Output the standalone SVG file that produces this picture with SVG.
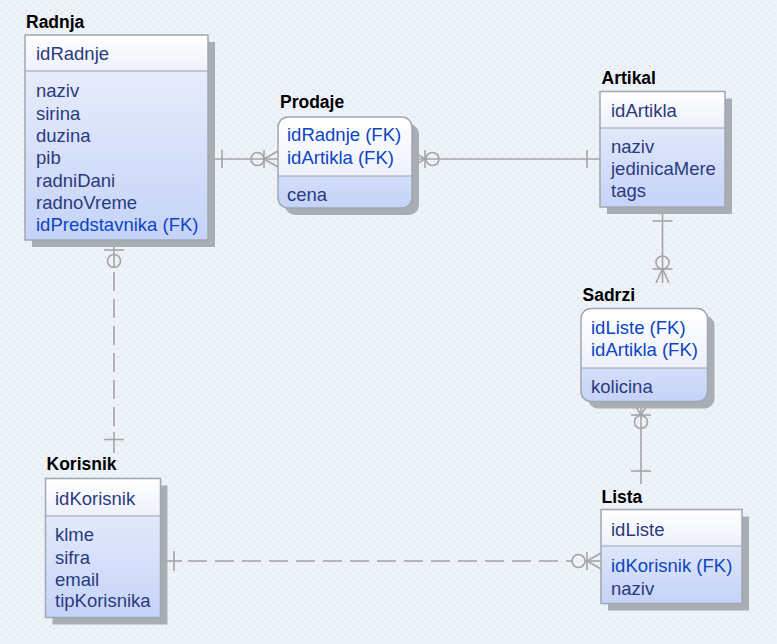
<svg xmlns="http://www.w3.org/2000/svg" width="777" height="644" viewBox="0 0 777 644">
<defs>
  <pattern id="bgp" width="8" height="8" patternUnits="userSpaceOnUse">
    <rect width="8" height="8" fill="#eef3f9"/>
    <rect x="1" y="1" width="1" height="1" fill="#d6dee9"/>
    <rect x="2" y="2" width="1" height="1" fill="#d6dee9"/>
    <rect x="5" y="5" width="1" height="1" fill="#d6dee9"/>
    <rect x="6" y="4" width="1" height="1" fill="#d6dee9"/>
  </pattern>
  <linearGradient id="hdr" x1="0" y1="0" x2="0" y2="1">
    <stop offset="0" stop-color="#ffffff"/>
    <stop offset="1" stop-color="#edf1fb"/>
  </linearGradient>
  <linearGradient id="bdy" x1="0" y1="0" x2="0" y2="1">
    <stop offset="0" stop-color="#eef2fc"/>
    <stop offset="1" stop-color="#c5d3f8"/>
  </linearGradient>
  <style>
    .shadow{fill:#a9aeb5;}
    .body{fill:url(#bdy);}
    .hdr{fill:url(#hdr);}
    .frame{fill:none;stroke:#a0a7b3;stroke-width:1.5;}
    .sep{stroke:#b3bac6;stroke-width:1.5;}
    .title{font-family:"Liberation Sans",Arial,sans-serif;font-weight:bold;font-size:17.5px;fill:#000;}
    .at{font-family:"Liberation Sans",Arial,sans-serif;font-size:18.5px;fill:#2b3a7e;}
    .fk{font-family:"Liberation Sans",Arial,sans-serif;font-size:18.5px;fill:#0d45c2;}
    .ln{fill:none;stroke:#a4a4a4;stroke-width:1.6;}
    .dash{stroke-dasharray:19 8;}
  </style>
</defs>
<rect width="777" height="644" fill="url(#bgp)"/>

<g id="connectors">
  <g id="c-radnja-prodaje">
    <line class="ln" x1="208" y1="159" x2="278" y2="159"/>
    <line class="ln" x1="222" y1="150" x2="222" y2="168"/>
    <circle class="ln" cx="257.5" cy="159" r="6.5" fill="#eef3f9"/>
    <line class="ln" x1="264" y1="150" x2="264" y2="168"/>
    <polyline class="ln" points="278,151 264,159 278,167"/>
  </g>
  <g id="c-prodaje-artikal">
    <line class="ln" x1="412" y1="159" x2="600" y2="159"/>
    <polyline class="ln" points="412,151 425,159 412,167"/>
    <line class="ln" x1="425" y1="150" x2="425" y2="168"/>
    <circle class="ln" cx="432.5" cy="159" r="6.5" fill="#eef3f9"/>
    <line class="ln" x1="587" y1="150" x2="587" y2="168"/>
  </g>
  <g id="c-artikal-sadrzi">
    <line class="ln" x1="662.5" y1="207" x2="662.5" y2="283"/>
    <line class="ln" x1="652.5" y1="221" x2="672.5" y2="221"/>
    <circle class="ln" cx="662.5" cy="262.5" r="6.5" fill="#eef3f9"/>
    <line class="ln" x1="652.5" y1="269" x2="672.5" y2="269"/>
    <polyline class="ln" points="656,283 662.5,269 669,283"/>
  </g>
  <g id="c-sadrzi-lista">
    <line class="ln" x1="641" y1="402" x2="641" y2="484"/>
    <polyline class="ln" points="633,402 641,415 649,402"/>
    <line class="ln" x1="631" y1="415" x2="651" y2="415"/>
    <circle class="ln" cx="641" cy="422" r="6.5" fill="#eef3f9"/>
    <line class="ln" x1="631" y1="471" x2="651" y2="471"/>
  </g>
  <g id="c-radnja-korisnik">
    <line class="ln" x1="114" y1="240" x2="114" y2="268"/>
    <line class="ln dash" x1="114" y1="272" x2="114" y2="432"/>
    <line class="ln" x1="114" y1="432" x2="114" y2="453"/>
    <line class="ln" x1="104" y1="250" x2="124" y2="250"/>
    <circle class="ln" cx="114" cy="261" r="6.5" fill="#eef3f9"/>
    <line class="ln" x1="104" y1="439.5" x2="124" y2="439.5"/>
  </g>
  <g id="c-korisnik-lista">
    <line class="ln" x1="161" y1="561" x2="182" y2="561"/>
    <line class="ln dash" x1="188" y1="561" x2="572" y2="561"/>
    <line class="ln" x1="174" y1="551" x2="174" y2="571"/>
    <circle class="ln" cx="578.5" cy="561" r="6.5" fill="#eef3f9"/>
    <line class="ln" x1="587" y1="552" x2="587" y2="570"/>
    <line class="ln" x1="585" y1="561" x2="601" y2="561"/>
    <polyline class="ln" points="601,553 587,561 601,569"/>
  </g>
</g>

<g id="Radnja">
  <rect class="shadow" x="32" y="42" width="183" height="205"/>
  <rect class="body" x="25" y="35" width="183" height="205"/>
  <rect class="hdr" x="25" y="35" width="183" height="36"/>
  <line class="sep" x1="25" y1="71" x2="208" y2="71"/>
  <rect class="frame" x="25" y="35" width="183" height="205"/>
  <text class="title" x="26" y="28">Radnja</text>
  <text class="at" x="36" y="60">idRadnje</text>
  <text class="at" x="36" y="97">naziv</text>
  <text class="at" x="36" y="119.5">sirina</text>
  <text class="at" x="36" y="141.5">duzina</text>
  <text class="at" x="36" y="164">pib</text>
  <text class="at" x="36" y="186.5">radniDani</text>
  <text class="at" x="36" y="208.5">radnoVreme</text>
  <text class="fk" x="36" y="231">idPredstavnika (FK)</text>
</g>

<g id="Prodaje">
  <rect class="shadow" x="285" y="124" width="134" height="91" rx="10"/>
  <rect class="body" x="278" y="117" width="134" height="91" rx="10"/>
  <path class="hdr" d="M278,176 V127 a10,10 0 0 1 10,-10 H402 a10,10 0 0 1 10,10 V176 Z"/>
  <line class="sep" x1="278" y1="176" x2="412" y2="176"/>
  <rect class="frame" x="278" y="117" width="134" height="91" rx="10"/>
  <text class="title" x="280" y="108">Prodaje</text>
  <text class="fk" x="287" y="141">idRadnje (FK)</text>
  <text class="fk" x="287" y="164">idArtikla (FK)</text>
  <text class="at" x="287" y="201">cena</text>
</g>

<g id="Artikal">
  <rect class="shadow" x="607" y="98.5" width="125" height="115.5"/>
  <rect class="body" x="600" y="91.5" width="125" height="115.5"/>
  <rect class="hdr" x="600" y="91.5" width="125" height="36.5"/>
  <line class="sep" x1="600" y1="128" x2="725" y2="128"/>
  <rect class="frame" x="600" y="91.5" width="125" height="115.5"/>
  <text class="title" x="601.5" y="83.5">Artikal</text>
  <text class="at" x="611" y="117">idArtikla</text>
  <text class="at" x="611" y="152.5">naziv</text>
  <text class="at" x="611" y="174.5">jedinicaMere</text>
  <text class="at" x="611" y="196.5">tags</text>
</g>

<g id="Sadrzi">
  <rect class="shadow" x="588" y="315.5" width="126.5" height="93" rx="10"/>
  <rect class="body" x="581" y="308.5" width="126.5" height="93" rx="10"/>
  <path class="hdr" d="M581,368 V318.5 a10,10 0 0 1 10,-10 H697.5 a10,10 0 0 1 10,10 V368 Z"/>
  <line class="sep" x1="581" y1="368" x2="707.5" y2="368"/>
  <rect class="frame" x="581" y="308.5" width="126.5" height="93" rx="10"/>
  <text class="title" x="582.5" y="301">Sadrzi</text>
  <text class="fk" x="591" y="333.5">idListe (FK)</text>
  <text class="fk" x="591" y="355.5">idArtikla (FK)</text>
  <text class="at" x="591" y="392.5">kolicina</text>
</g>

<g id="Lista">
  <rect class="shadow" x="608" y="516.5" width="141" height="94"/>
  <rect class="body" x="601" y="509.5" width="141" height="94"/>
  <rect class="hdr" x="601" y="509.5" width="141" height="36.5"/>
  <line class="sep" x1="601" y1="546" x2="742" y2="546"/>
  <rect class="frame" x="601" y="509.5" width="141" height="94"/>
  <text class="title" x="601.5" y="502.5">Lista</text>
  <text class="at" x="611" y="536">idListe</text>
  <text class="fk" x="611" y="572">idKorisnik (FK)</text>
  <text class="at" x="611" y="594.5">naziv</text>
</g>

<g id="Korisnik">
  <rect class="shadow" x="52.5" y="485.5" width="115" height="139"/>
  <rect class="body" x="45.5" y="478.5" width="115" height="139"/>
  <rect class="hdr" x="45.5" y="478.5" width="115" height="37.5"/>
  <line class="sep" x1="45.5" y1="516" x2="160.5" y2="516"/>
  <rect class="frame" x="45.5" y="478.5" width="115" height="139"/>
  <text class="title" x="46.5" y="470">Korisnik</text>
  <text class="at" x="55" y="504.5">idKorisnik</text>
  <text class="at" x="55" y="541">klme</text>
  <text class="at" x="55" y="563.5">sifra</text>
  <text class="at" x="55" y="585.5">email</text>
  <text class="at" x="55" y="607">tipKorisnika</text>
</g>
</svg>
